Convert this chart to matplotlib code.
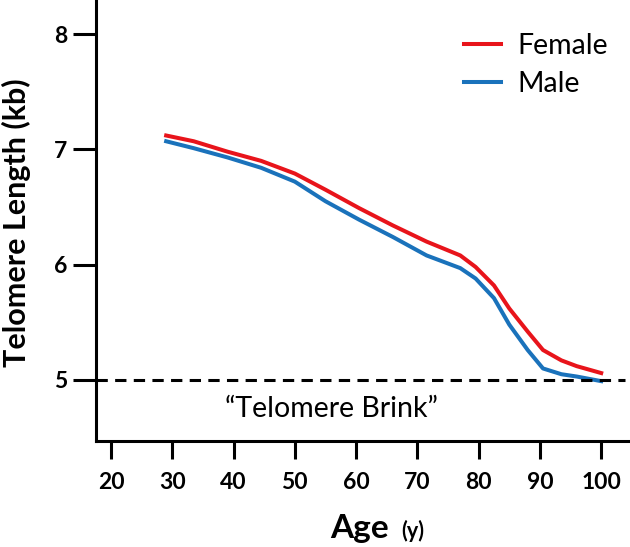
import matplotlib
matplotlib.use('Agg')
import matplotlib.pyplot as plt

# values
ages = [29, 33.5, 39, 44.5, 50, 55, 60.5, 66, 71.5, 77, 79.5, 82.5, 85, 88, 90.5, 93.5, 96, 100]
female = [7.12, 7.07, 6.98, 6.90, 6.79, 6.65, 6.49, 6.34, 6.20, 6.08, 5.98, 5.82,
          5.62, 5.42, 5.26, 5.17, 5.12, 5.06]
male = [7.07, 7.01, 6.93, 6.84, 6.72, 6.55, 6.39, 6.24, 6.08, 5.97, 5.88, 5.71,
        5.48, 5.26, 5.10, 5.05, 5.03, 4.99]

x_ticks = [20, 30, 40, 50, 60, 70, 80, 90, 100]
y_ticks = [5, 6, 7, 8]
brink = 5

RED = '#E8141B'
BLUE = '#1A72BB'
FONT = 'Lato'

plt.rcParams['font.family'] = [FONT, 'DejaVu Sans']

fig = plt.figure(figsize=(6.3, 5.47), dpi=100)
ax = fig.add_axes([0.1524, 0.1938, 0.8476, 0.8062])

ax.plot(ages, female, color=RED, lw=2.9, label='Female', solid_joinstyle='round')
ax.plot(ages, male, color=BLUE, lw=2.9, label='Male', solid_joinstyle='round')
ax.axhline(brink, xmin=0, xmax=0.99, color='black', lw=2.2, ls=(0, (3.7, 2.4)))

ax.text(56, 4.68, '\u201cTelomere Brink\u201d', ha='center', va='baseline', fontsize=20.5)

ax.set_xlim(17.55, 104.7)
ax.set_ylim(4.471, 8.295)
ax.set_xticks(x_ticks)
ax.set_yticks(y_ticks)
ax.tick_params(axis='x', length=13, width=2.2, pad=9, labelsize=16.5)
ax.tick_params(axis='y', length=16.5, width=2.2, pad=4, labelsize=16.5)
for lbl in ax.get_xticklabels() + ax.get_yticklabels():
    lbl.set_fontweight('bold')

for side in ['top', 'right']:
    ax.spines[side].set_visible(False)
for side in ['left', 'bottom']:
    ax.spines[side].set_linewidth(2.2)

ax.legend(loc='upper left', bbox_to_anchor=(0.69, 0.925), frameon=False,
          fontsize=20.5, handlelength=1.3, handletextpad=0.55,
          labelspacing=0.42, borderpad=0, borderaxespad=0)

fig.text(16 / 630, 1 - 223 / 547, 'Telomere Length (kb)', rotation=90,
         ha='center', va='center', fontsize=22, fontweight='bold')
fig.text(389 / 630, 9 / 547, 'Age', ha='right', va='baseline',
         fontsize=24, fontweight='bold')
fig.text(401 / 630, 9 / 547, '(y)', ha='left', va='baseline',
         fontsize=15.5, fontweight='bold')

fig.savefig('out.png', dpi=100)
